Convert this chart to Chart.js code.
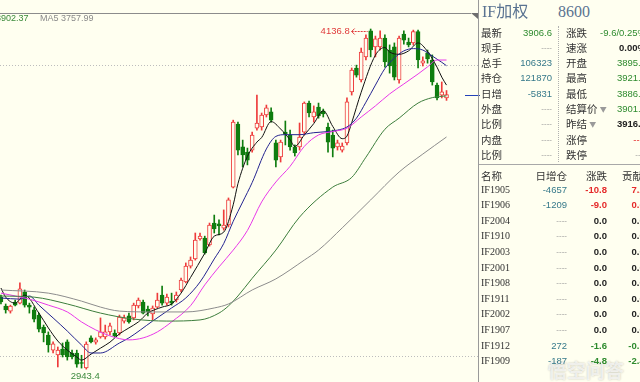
<!DOCTYPE html>
<html lang="zh">
<head>
<meta charset="UTF-8">
<title>IF加权 日K</title>
<script src="https://cdn.jsdelivr.net/npm/chart.js"></script>
<style>
  * { margin: 0; padding: 0; box-sizing: border-box; }
  body {
    width: 640px; height: 382px; overflow: hidden; position: relative;
    background: #fffff0;
    font-family: 'Liberation Sans', Arial, sans-serif;
  }
  #kline { position: absolute; left: 0; top: 0; }
  .topline { position: absolute; left: 0; top: 13px; width: 471px; height: 1px; background: #8c8c8c; }
  .corner { position: absolute; left: 471px; top: 13px; width: 0; height: 0;
    border-top: 6px solid #6e6e6e; border-left: 7px solid transparent; }
  .legend { position: absolute; top: 13px; font-size: 9px; line-height: 11px; white-space: nowrap; }
  .panel-border { position: absolute; left: 478px; top: 0; width: 1px; height: 382px; background: #9a9a9a; }
  .hline { position: absolute; left: 479px; width: 161px; height: 1px; background: #a8a8a8; }
  .vdots { position: absolute; left: 558px; top: 26px; height: 136px; border-left: 1px dotted #b0b0b0; }
  .t { position: absolute; white-space: nowrap; line-height: 15px; }
  .cjk { font-family: 'Noto Sans CJK SC', sans-serif; font-size: 10.5px; color: #333; }
  .num { font-family: 'Liberation Sans', Arial, sans-serif; font-size: 9.5px; }
  .ser { font-family: 'Liberation Serif', 'DejaVu Serif', serif; font-size: 10px; color: #333; }
  .title { font-family: 'Liberation Serif', 'Noto Sans CJK SC', serif; font-size: 16px; color: #5a7391; line-height: 20px; }
  .g { color: #2e8b2e; }
  .c { color: #36798a; }
  .d { color: #9a9a9a; font-size: 8px; }
  .r { color: #e52a2a; }
  .k { color: #222; font-weight: bold; }
  .b { font-weight: bold; }
  .tri { color: #9a9a9a; font-size: 7px; vertical-align: 1px; }
  .mark { position: absolute; left: 548px; top: 356px; font-family: 'Noto Sans CJK SC', sans-serif;
    font-size: 19px; font-weight: bold; color: rgba(255,255,255,0.7);
    text-shadow: 0 0 2px rgba(0,0,0,0.25); white-space: nowrap; }
</style>
</head>
<body>

<canvas id="kline" width="480" height="382"></canvas>

<div class="topline"></div>
<div class="corner"></div>
<div class="legend" style="left:-30px;color:#3a8a3a">MA60 3902.37</div>
<div class="legend" style="left:40px;color:#8a8a8a">MA5 3757.99</div>

<div class="panel-border"></div>
<div class="t title" style="left:482px;top:2px">IF加权</div>
<div class="t title" style="left:558px;top:2px">8600</div>
<div class="vdots"></div>
<div class="hline" style="top:164px"></div>
<div class="mark">悟空问答</div>

<script>
  // daily candles (oldest first)
  const opens = [
    3196, 3165, 3147, 3179, 3175, 3214, 3168, 3151, 3133, 3091,
    3063, 3010, 2993, 3014, 3039, 3000, 3000, 2966, 2948, 3053,
    3038, 3056, 3056, 3074, 3070, 3070, 3112, 3130, 3123, 3165,
    3179, 3154, 3137, 3161, 3203, 3175, 3182, 3186, 3221, 3249,
    3305, 3330, 3400, 3403, 3379, 3456, 3453, 3438, 3449, 3582,
    3803, 3723, 3705, 3712, 3789, 3793, 3835, 3846, 3737, 3688,
    3775, 3765, 3723, 3723, 3775, 3877, 3828, 3863, 3849, 3793,
    3765, 3723, 3712, 3737, 3916, 4000, 3958, 4039, 4130, 4074,
    4074, 4105, 4063, 4074, 3958, 4119, 4091, 4088, 4128, 4017,
    4053, 4028, 3940, 3905, 3895.2
  ];
  const closes = [
    3179, 3151, 3165, 3168, 3225, 3168, 3161, 3119, 3084, 3070,
    3028, 3032, 3010, 2993, 2986, 2986, 2961, 2963, 3031, 3039,
    3046, 3074, 3074, 3095, 3060, 3126, 3123, 3109, 3168, 3186,
    3140, 3144, 3158, 3186, 3175, 3196, 3175, 3203, 3256, 3305,
    3326, 3396, 3410, 3351, 3449, 3435, 3446, 3449, 3537, 3810,
    3712, 3695, 3677, 3765, 3807, 3835, 3860, 3817, 3677, 3740,
    3768, 3723, 3702, 3758, 3877, 3842, 3846, 3832, 3839, 3740,
    3719, 3737, 3726, 3881, 3993, 3975, 4056, 4105, 4063, 4102,
    4105, 4021, 4007, 3968, 4105, 4098, 4081, 4128, 4028, 4025,
    4032, 3951, 3895, 3916, 3906.6
  ];
  const highs = [
    3203, 3172, 3168, 3186, 3246, 3221, 3175, 3161, 3140, 3098,
    3074, 3039, 3021, 3035, 3046, 3010, 3010, 2992, 3039, 3060,
    3053, 3123, 3098, 3105, 3081, 3133, 3133, 3140, 3175, 3193,
    3186, 3165, 3165, 3210, 3235, 3207, 3210, 3214, 3263, 3316,
    3337, 3421, 3421, 3410, 3456, 3484, 3467, 3502, 3544, 3817,
    3810, 3747, 3719, 3775, 3905, 3842, 3870, 3860, 3747, 3747,
    3814, 3782, 3730, 3807, 3881, 3884, 3867, 3877, 3856, 3807,
    3782, 3747, 3737, 3895, 4000, 4010, 4070, 4116, 4136.8, 4112,
    4130, 4116, 4081, 4088, 4112, 4130, 4105, 4133, 4133, 4039,
    4063, 4046, 3947, 3951, 3921.0
  ];
  const lows = [
    3172, 3140, 3140, 3165, 3172, 3161, 3140, 3109, 3074, 3039,
    3003, 3000, 2951, 2986, 2975, 2979, 2950, 2947, 2943.4, 3035,
    3031, 3052, 3049, 3063, 3056, 3063, 3105, 3105, 3116, 3158,
    3137, 3130, 3116, 3158, 3168, 3168, 3168, 3179, 3214, 3246,
    3298, 3326, 3396, 3347, 3375, 3421, 3414, 3431, 3442, 3579,
    3695, 3653, 3660, 3705, 3782, 3782, 3828, 3810, 3653, 3670,
    3730, 3712, 3691, 3712, 3765, 3828, 3810, 3824, 3828, 3705,
    3688, 3712, 3705, 3730, 3905, 3968, 3951, 4028, 4039, 4039,
    4063, 4003, 3982, 3958, 3947, 4084, 4074, 4081, 4000, 4007,
    4017, 3940, 3888, 3895, 3886.4
  ];

  // moving averages as [candle index, value] read at points along each line
  const ma5 = [[0,3228],[1,3196],[3,3175],[5,3203],[8,3140],[10,3088],[12,3042],[14,3010],[16,2986],[17,2975],
    [19,2996],[21,3017],[23,3038],[25,3067],[27,3088],[29,3109],[31,3140],[34,3161],[36,3172],[38,3210],
    [40,3265],[43,3350],[45,3410],[47,3424],[49,3520],[50,3594],[52,3690],[54,3740],[55,3756],[57,3812],
    [59,3786],[61,3748],[62,3725],[64,3765],[66,3805],[68,3850],[70,3795],[72,3752],[73,3761],[74,3808],
    [76,3915],[79,4045],[81,4072],[82,4056],[84,4048],[86,4060],[88,4088],[90,4058],[92,4003],[93,3968],[94,3940]];
  const ma10 = [[0,3193],[4,3189],[6,3200],[8,3168],[11,3123],[14,3077],[17,3028],[19,3000],[21,3000],[25,3035],
    [27,3053],[32,3112],[36,3158],[39,3193],[42,3249],[45,3330],[47,3384],[49,3462],[51,3530],[53,3598],
    [56,3716],[58,3760],[60,3766],[63,3766],[66,3773],[69,3777],[71,3782],[73,3793],[75,3824],[77,3880],
    [79,3940],[81,3998],[83,4035],[85,4060],[87,4068],[89,4063],[91,4042],[93,4020],[94,4008]];
  const ma20 = [[0,3210],[6,3189],[10,3168],[14,3144],[17,3109],[20,3081],[23,3060],[27,3046],[30,3053],[33,3074],
    [36,3109],[40,3166],[43,3239],[46,3302],[49,3361],[52,3430],[55,3530],[58,3600],[61,3655],[64,3725],
    [67,3765],[70,3777],[73,3789],[76,3828],[79,3867],[82,3909],[85,3944],[88,3979],[90,4004],[92,4028],[94,4028]];
  const ma60 = [[0,3200],[7,3196],[14,3172],[21,3140],[28,3119],[35,3112],[42,3116],[46,3140],[48,3165],[50,3200],
    [53,3262],[58,3361],[63,3477],[70,3582],[74,3616],[77,3687],[81,3785],[84,3824],[88,3877],[91,3896],[94,3902.37]];
  const ma120 = [[0,3221],[10,3210],[17,3182],[21,3161],[25,3147],[32,3144],[39,3144],[45,3158],[48,3172],[53,3221],
    [58,3260],[64,3326],[67,3361],[72,3439],[78,3537],[84,3635],[89,3698],[94,3757.99]];

  // dotted guide levels
  const gridLevels = [4010, 2990];

  // panel texts
  const quoteLeft = [['最新','3906.6','g'],['现手','----','d'],['总手','106323','c'],['持仓','121870','c'],
    ['日增','-5831','c'],['外盘','----','d'],['比例','----','d'],['内盘','----','d'],['比例','----','d']];
  const quoteRight = [['涨跌','-9.6/0.25%','g'],['速涨','0.00%','k'],['开盘','3895.2','g'],['最高','3921.0','g'],
    ['最低','3886.4','g'],['结算价','3901.2','g'],['昨结','3916.2','k'],['涨停','----','r'],['跌停','----','d']];
  const contracts = ['IF1905','IF1906','IF2004','IF1910','IF2003','IF2001','IF1908','IF1911','IF2002','IF1907','IF1912','IF1909'];
  const oiChange = ['-4657','-1209','----','----','----','----','----','----','----','----','272','-187'];
  const priceChange = ['-10.8','-9.0','0.0','0.0','0.0','0.0','0.0','0.0','0.0','0.0','-1.6','-4.8'];
  const contribution = ['7.24','0.61','0.00','0.00','0.00','0.00','0.00','0.00','0.00','0.00','-0.12','-2.45'];
  const rowTone = ['r','r','k','k','k','k','k','k','k','k','g','g'];

  const BG = '#fffff0';
  const UP = '#ee3b3b';
  const DOWN = '#0f7d0f';

  function put(text, cls, pos) {
    const d = document.createElement('div');
    d.className = 't ' + cls;
    d.innerHTML = text;
    for (const k in pos) d.style[k] = pos[k] + 'px';
    document.body.appendChild(d);
  }

  quoteLeft.forEach(([lab, val, tone], k) => {
    const top = 24.5 + 15.3 * k;
    put(lab, 'cjk', { left: 481, top });
    put(val, 'num ' + tone, { right: 88, top });
  });
  quoteRight.forEach(([lab, val, tone], k) => {
    const top = 24.5 + 15.3 * k;
    const extra = (lab === '结算价' || lab === '昨结') ? ' <span class="tri">▼</span>' : '';
    put(lab + extra, 'cjk', { left: 566, top });
    put(val, 'num ' + tone, { right: -6, top });
  });

  put('名称', 'cjk', { left: 481, top: 167.5 });
  put('日增仓', 'cjk', { right: 73, top: 167.5 });
  put('涨跌', 'cjk', { right: 33, top: 167.5 });
  put('贡献', 'cjk', { left: 622, top: 167.5 });
  contracts.forEach((name, k) => {
    const top = 181.5 + 15.6 * k;
    const oiTone = oiChange[k] === '----' ? 'd' : 'c';
    put(name, 'ser', { left: 481, top });
    put(oiChange[k], 'num ' + oiTone, { right: 73, top });
    put(priceChange[k], 'num b ' + rowTone[k], { right: 33, top });
    put(contribution[k], 'num b ' + rowTone[k], { right: -10, top });
  });

  // candle pixel step and price scale matched to the reference
  const step = 4.74;
  const xMin = -0.2, xMax = xMin + 480 / step;
  const yMax = 4238.6, yMin = 2898.2;

  const isUp = opens.map((o, i) => closes[i] >= o);

  const overlay = {
    id: 'overlay',
    beforeDatasetsDraw(chart) {
      const { ctx, chartArea, scales: { y } } = chart;
      ctx.save();
      ctx.strokeStyle = '#bdbdbd';
      ctx.lineWidth = 1;
      ctx.setLineDash([1, 2]);
      gridLevels.forEach(v => {
        const py = Math.round(y.getPixelForValue(v)) + 0.5;
        ctx.beginPath();
        ctx.moveTo(chartArea.left, py);
        ctx.lineTo(chartArea.right, py);
        ctx.stroke();
      });
      ctx.restore();
    },
    afterDatasetsDraw(chart) {
      const { ctx, scales: { x, y } } = chart;
      ctx.save();
      ctx.font = '9.5px "Liberation Sans", Arial, sans-serif';

      // highest point
      const hi = highs.indexOf(Math.max(...highs));
      const hx = x.getPixelForValue(hi);
      const hy = Math.round(y.getPixelForValue(highs[hi])) + 2.5;
      ctx.strokeStyle = ctx.fillStyle = '#e03c3c';
      ctx.lineWidth = 1;
      ctx.setLineDash([2, 1]);
      ctx.beginPath(); ctx.moveTo(hx - 19, hy); ctx.lineTo(hx - 3, hy); ctx.stroke();
      ctx.setLineDash([]);
      ctx.beginPath(); ctx.moveTo(hx - 16, hy - 3); ctx.lineTo(hx - 19, hy); ctx.lineTo(hx - 16, hy + 3); ctx.stroke();
      ctx.textAlign = 'right'; ctx.textBaseline = 'middle';
      ctx.fillText(highs[hi].toFixed(1), hx - 21, hy);

      // lowest point
      const lo = lows.indexOf(Math.min(...lows));
      const lx = x.getPixelForValue(lo);
      const ly = y.getPixelForValue(lows[lo]);
      ctx.fillStyle = '#3d8a3d';
      ctx.textAlign = 'center'; ctx.textBaseline = 'top';
      ctx.fillText(lows[lo].toFixed(1), lx - 1, ly + 3);

      // last price marker
      const py = Math.round(y.getPixelForValue(closes[closes.length - 1])) + 0.5;
      ctx.strokeStyle = '#2342b8';
      ctx.beginPath(); ctx.moveTo(465, py); ctx.lineTo(480, py); ctx.stroke();
      ctx.restore();
    }
  };

  const maLine = (pts, color) => ({
    type: 'line',
    data: pts.map(([i, v]) => ({ x: i, y: v })),
    borderColor: color,
    borderWidth: 1,
    pointRadius: 0,
    cubicInterpolationMode: 'monotone',
    order: 0
  });

  new Chart(document.getElementById('kline'), {
    type: 'bar',
    data: {
      datasets: [
        {
          data: lows.map((l, i) => ({ x: i, y: [l, highs[i]] })),
          backgroundColor: isUp.map(u => u ? UP : DOWN),
          barThickness: 1,
          grouped: false,
          order: 2
        },
        {
          data: opens.map((o, i) => ({ x: i, y: [o, closes[i]] })),
          backgroundColor: isUp.map(u => u ? BG : DOWN),
          borderColor: isUp.map(u => u ? UP : DOWN),
          borderWidth: 1,
          borderSkipped: false,
          barThickness: 4,
          minBarLength: 1,
          grouped: false,
          order: 1
        },
        maLine(ma120, '#8c8c8c'),
        maLine(ma60, '#3c7d3c'),
        maLine(ma20, '#e838e8'),
        maLine(ma10, '#23238f'),
        maLine(ma5, '#111111')
      ]
    },
    options: {
      responsive: false,
      animation: false,
      devicePixelRatio: 1,
      layout: { padding: 0 },
      plugins: { legend: { display: false }, tooltip: { enabled: false } },
      scales: {
        x: { type: 'linear', min: xMin, max: xMax, offset: false, display: false },
        y: { type: 'linear', min: yMin, max: yMax, display: false }
      }
    },
    plugins: [overlay]
  });
</script>

</body>
</html>
